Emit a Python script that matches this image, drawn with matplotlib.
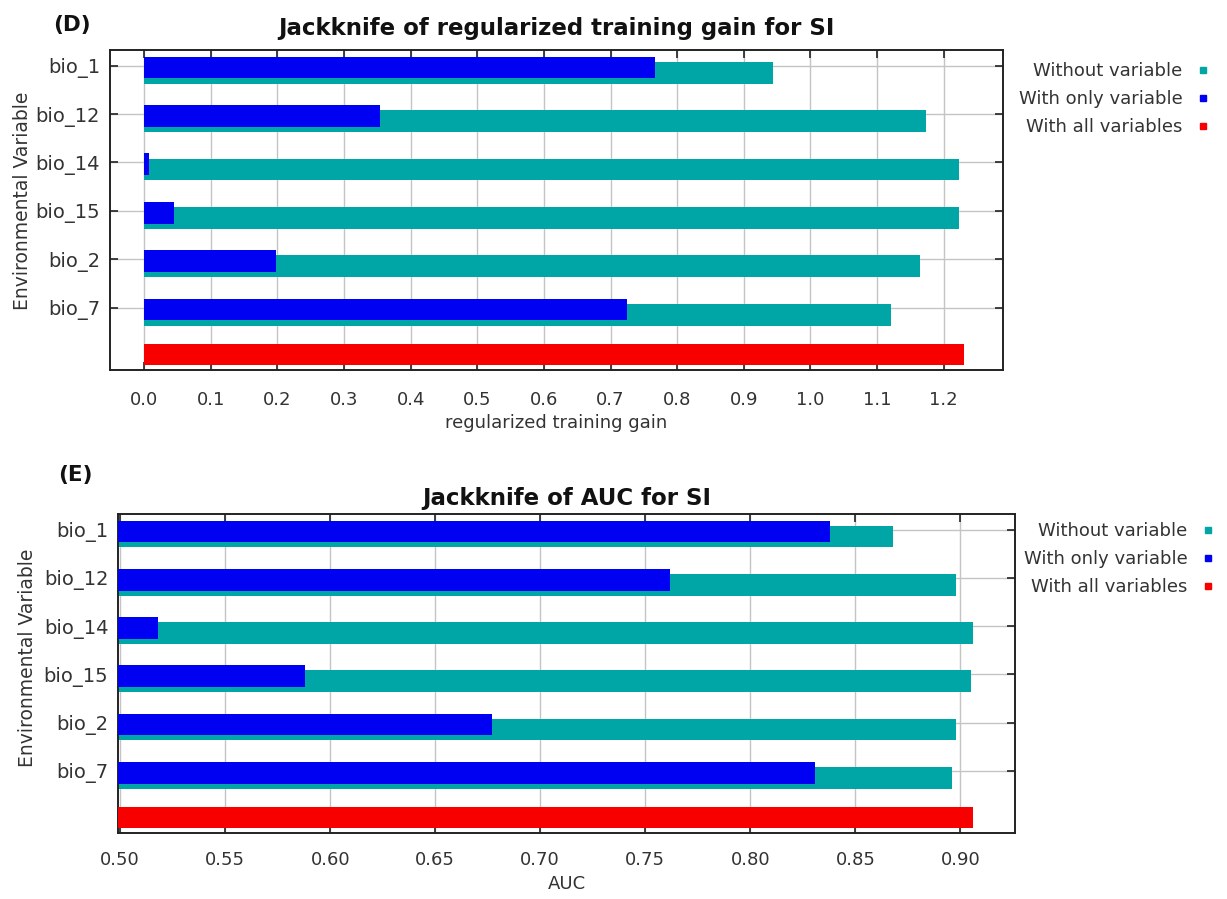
import matplotlib
matplotlib.use('Agg')
import matplotlib.pyplot as plt
import numpy as np
from matplotlib.lines import Line2D

# data
variables = ['bio_1', 'bio_12', 'bio_14', 'bio_15', 'bio_2', 'bio_7']

gainWithout = [0.944, 1.173, 1.223, 1.223, 1.165, 1.121]
gainOnly = [0.767, 0.354, 0.007, 0.044, 0.198, 0.725]
gainAll = 1.231

aucWithout = [0.868, 0.898, 0.906, 0.905, 0.898, 0.896]
aucOnly = [0.838, 0.762, 0.518, 0.588, 0.677, 0.831]
aucAll = 0.906

cyanCol = '#00A6A6'
blueCol = '#0000F2'
redCol = '#F80000'
tickCol = '#333333'

plt.rcParams['font.family'] = ['DejaVu Sans']


def jackknife(ax, withoutVals, onlyVals, allVal, xticks, fmt, xlim, title, xlabel, tpad, xpad):
  ypos = np.arange(len(variables))
  ax.barh(ypos + 0.145, withoutVals, height=0.45, color=cyanCol, zorder=2)
  ax.barh(ypos + 0.04, onlyVals, height=0.45, color=blueCol, zorder=3)
  ax.barh(len(variables) - 0.03, allVal, height=0.45, color=redCol, zorder=3)

  ax.set_xlim(xlim)
  ax.set_ylim(6.29, -0.324)
  ax.set_xticks(xticks)
  ax.set_xticklabels([fmt % v for v in xticks])
  ax.set_yticks(ypos)
  ax.set_yticklabels(variables)
  ax.grid(True, color='#C4C4C4', linewidth=1.0)
  ax.set_axisbelow(True)
  ax.tick_params(axis='both', direction='in', length=6, width=1.2, colors='#222222',
                 labelcolor=tickCol, labelsize=13, top=True, right=True)
  ax.tick_params(axis='x', pad=xpad)
  ax.tick_params(axis='y', pad=7, labelsize=14)
  for sp in ax.spines.values():
    sp.set_color('#222222')
    sp.set_linewidth(1.4)
  ax.set_title(title, fontsize=16.5, fontweight='bold', pad=tpad, color='#111111')
  ax.set_xlabel(xlabel, fontsize=13, color=tickCol, labelpad=4)
  ax.set_ylabel('Environmental Variable', fontsize=13.5, color=tickCol)


fig = plt.figure(figsize=(12.27, 8.99), dpi=100)
ax1 = fig.add_axes([0.0896, 0.5884, 0.7278, 0.356])
ax2 = fig.add_axes([0.0962, 0.0734, 0.7310, 0.3549])

jackknife(ax1, gainWithout, gainOnly, gainAll, np.round(np.arange(0, 1.25, 0.1), 1), '%.1f',
          (-0.0515, 1.289), 'Jackknife of regularized training gain for SI',
          'regularized training gain', 10.5, 15)
jackknife(ax2, aucWithout, aucOnly, aucAll, np.round(np.arange(0.5, 0.91, 0.05), 2), '%.2f',
          (0.499, 0.926), 'Jackknife of AUC for SI', 'AUC', 6.5, 13)

ax1.yaxis.set_label_coords(-0.087, 0.53)
ax2.yaxis.set_label_coords(-0.09, 0.55)

handles = [Line2D([], [], linestyle='none', marker='s', markersize=5, color=c)
           for c in [cyanCol, blueCol, redCol]]
names = ['Without variable', 'With only variable', 'With all variables']
for anchor in [(0.986, 0.931), (0.990, 0.419)]:
  leg = fig.legend(handles, names, loc='upper right', bbox_to_anchor=anchor,
                   frameon=False, markerfirst=False, fontsize=13, handlelength=0.8,
                   handletextpad=0.7, labelspacing=0.55, borderpad=0, borderaxespad=0)
  for t in leg.get_texts():
    t.set_color(tickCol)

fig.text(0.043, 1 - 25 / 899, '(D)', fontsize=15.5, fontweight='bold', va='center', color='#111111')
fig.text(0.047, 1 - 475 / 899, '(E)', fontsize=15.5, fontweight='bold', va='center', color='#111111')

fig.savefig('out.png', dpi=100)
